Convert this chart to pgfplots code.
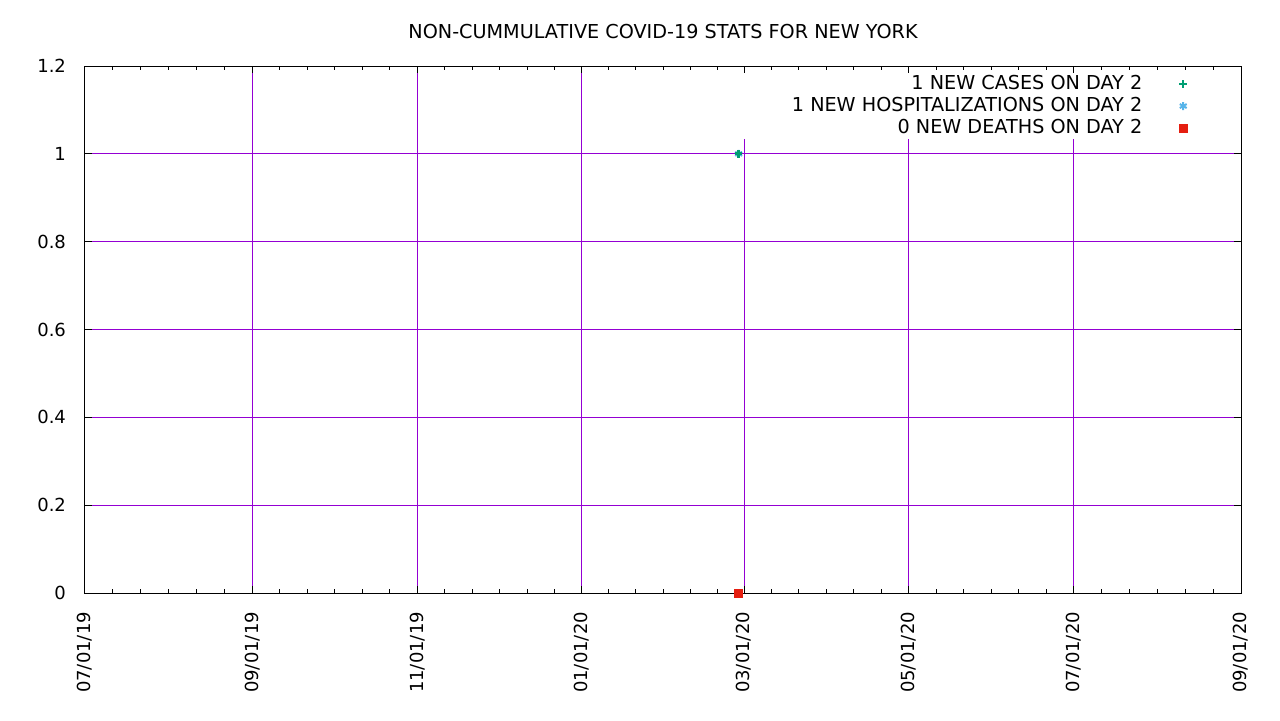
\documentclass[border=0pt]{standalone}
\usepackage{fontspec}
\setmainfont{DejaVu Sans}
\usepackage{pgfplots}
\pgfplotsset{compat=1.18}
\definecolor{gpgrid}{HTML}{9400D3}
\definecolor{gpgreen}{HTML}{009E73}
\definecolor{gpblue}{HTML}{56B4E9}
\definecolor{gpred}{HTML}{E51E10}
\pgfplotsset{lgd/.style={legend image code/.code={\path[draw=none,fill=none] (0pt,-2pt) rectangle (39pt,2pt); \draw[##1] plot coordinates {(19.5pt,0pt)};}}}
\begin{document}
\begin{tikzpicture}
\begin{axis}[
  scale only axis, width=578pt, height=263.5pt,
  xmin=0, xmax=428, ymin=0, ymax=1.2,
  xtick={0,62,123,184,244,305,366,428},
  xticklabels={07/01/19,09/01/19,11/01/19,01/01/20,03/01/20,05/01/20,07/01/20,09/01/20},
  minor xtick={10.33,20.67,31,41.33,51.67,
    72.17,82.33,92.5,102.67,112.83,
    133.17,143.33,153.5,163.67,173.83,
    194,204,214,224,234,
    254.17,264.33,274.5,284.67,294.83,
    315.17,325.33,335.5,345.67,355.83,
    376.33,386.67,397,407.33,417.67},
  ytick={0,0.2,0.4,0.6,0.8,1,1.2},
  yticklabels={0,0.2,0.4,0.6,0.8,1,1.2},
  tick align=inside,
  major tick length=3.5pt, minor tick length=2pt,
  xmajorgrids, ymajorgrids, xminorgrids=false,
  major grid style={draw=gpgrid, line width=0.5pt},
  axis line style={line width=0.5pt},
  every tick/.style={black, line width=0.5pt},
  every minor tick/.style={black, line width=0.5pt},
  font=\fontsize{9.6pt}{11pt}\selectfont,
  tick label style={font=\fontsize{9pt}{10pt}\selectfont},
  x tick label style={rotate=90, anchor=east},
  xticklabel shift=6pt,
  y tick label style={xshift=-6pt},
  /pgf/number format/assume math mode=true,
  title={NON-CUMMULATIVE COVID-19 STATS FOR NEW YORK},
  every axis title/.style={at={(0.5,1)}, anchor=center, yshift=17pt, font=\fontsize{9.6pt}{11pt}\selectfont},
  clip=false,
  legend plot pos=right,
  legend cell align=right,
  legend style={draw=none, fill=none, at={(0.9893,0.995)}, anchor=north east,
    font=\fontsize{9.6pt}{11pt}\selectfont, row sep=0pt,
    nodes={inner sep=1pt, text height=7pt, text depth=2pt}},
]
\fill[white] (rel axis cs:0.553,0.8615) rectangle (rel axis cs:0.9987,0.9867);
\addplot[only marks, lgd, mark=+, mark size=1.9pt, line width=1pt, color=gpgreen]
  coordinates {(242,1)};
\addlegendentry{1 NEW CASES ON DAY 2}
\addplot[only marks, lgd, mark=asterisk, mark size=2pt, line width=1pt, color=gpblue]
  coordinates {(242,1)};
\addlegendentry{1 NEW HOSPITALIZATIONS ON DAY 2}
\addplot[only marks, lgd, mark=square*, mark size=2pt, color=gpred, mark options={draw=gpred, fill=gpred}]
  coordinates {(242,0)};
\addlegendentry{0 NEW DEATHS ON DAY 2}
\addplot[forget plot, only marks, mark=+, mark size=1.9pt, line width=1.5pt, color=gpgreen]
  coordinates {(242,1)};
\coordinate (sw) at (rel axis cs:0,0);
\end{axis}
\pgfresetboundingbox
\path[use as bounding box] ([xshift=-42.5pt,yshift=-63.5pt]sw) rectangle ++(640pt,360pt);
\end{tikzpicture}
\end{document}
